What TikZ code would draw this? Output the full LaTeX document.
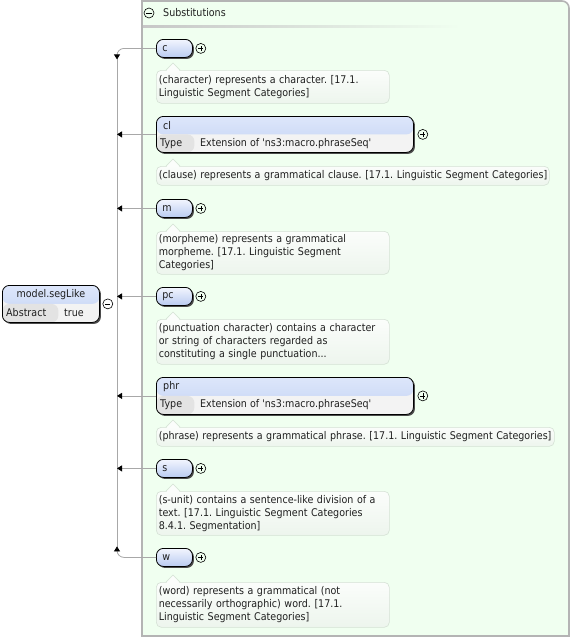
\documentclass[tikz,border=0pt]{standalone}
\usepackage{fontspec}
\setmainfont{DejaVu Sans}[FakeStretch=0.9, Ligatures=TeXOff]
\usetikzlibrary{arrows.meta,shadows}
\definecolor{panelfill}{HTML}{F0FFF0}
\definecolor{panelline}{HTML}{B4B4B4}
\definecolor{elemtop}{HTML}{F2F5FE}
\definecolor{elembottom}{HTML}{BACBF1}
\definecolor{headtop}{HTML}{DDE6FB}
\definecolor{headbottom}{HTML}{C3D3F3}
\definecolor{keycell}{HTML}{E3E3E3}
\definecolor{valcell}{HTML}{F3F3F3}
\definecolor{desctop}{HTML}{FBFDFB}
\definecolor{descbottom}{HTML}{EDF5ED}
\definecolor{descline}{HTML}{D5E1D5}
\definecolor{linkgray}{HTML}{A8A8A8}
\newcommand{\schemafont}{\fontsize{10.6}{13}\selectfont\frenchspacing}
% open callout on the top edge of a documentation box
\newcommand{\docnotch}[1]{%
  \fill[desctop] ([xshift=10.6pt,yshift=-0.8pt]#1.north west) -- ++(6.4,7.6) -- ++(6.4,-7.6) -- cycle;
  \draw[descline, line width=0.6pt] ([xshift=10pt]#1.north west) -- ++(7,7) -- ++(7,-7);}

\begin{document}
\begin{tikzpicture}[
  x=1pt,
  y=1pt,
  every node/.style={font=\schemafont, text=black!88},
  elem/.style={draw=black, line width=0.8pt, rounded corners=7pt,
               top color=elemtop, bottom color=elembottom,
               minimum height=18pt, text width=24pt, align=left,
               inner xsep=6pt, inner ysep=0pt, anchor=north west,
               drop shadow={shadow xshift=1.5pt, shadow yshift=-1.5pt,
                            fill=black!70, opacity=1}},
  typebox/.style={draw=black, line width=0.8pt, rounded corners=7pt,
                  fill=valcell, inner sep=0pt, anchor=north west,
                  drop shadow={shadow xshift=1.5pt, shadow yshift=-1.5pt,
                               fill=black!70, opacity=1},
                  path picture={
                    \fill[top color=headtop, bottom color=headbottom]
                      (path picture bounding box.north west)
                      rectangle (path picture bounding box.east);
                    \fill[keycell] (path picture bounding box.south west)
                      rectangle ([xshift=#1]path picture bounding box.west);}},
  desc/.style={draw=descline, line width=0.6pt, rounded corners=5pt,
               top color=desctop, bottom color=descbottom,
               inner xsep=2.5pt, inner ysep=0pt, align=left, anchor=north west},
  cell/.style={anchor=west, inner sep=0pt},
  expander/.style={circle, draw=black, line width=0.6pt, minimum size=10pt, inner sep=0pt},
  plus/.style={expander, path picture={
                 \draw[line width=0.6pt]
                   ([xshift=-2.6pt]path picture bounding box.center) -- ([xshift=2.6pt]path picture bounding box.center)
                   ([yshift=-2.6pt]path picture bounding box.center) -- ([yshift=2.6pt]path picture bounding box.center);}},
  minus/.style={expander, path picture={
                 \draw[line width=0.6pt]
                   ([xshift=-2.6pt]path picture bounding box.center) -- ([xshift=2.6pt]path picture bounding box.center);}},
  link/.style={linkgray, line width=0.8pt, -{Triangle[length=5pt, width=6pt, color=black]}},
  trunkline/.style={linkgray, line width=0.8pt}
]
  % ---- page frame ----
  \path[use as bounding box] (0,0) rectangle (571,-638);

  % ---- substitutions panel ----
  \filldraw[fill=panelfill, draw=panelline, line width=1.6pt]
    (142,-636) -- (142,-1) -- (562,-1) arc[start angle=90, end angle=0, radius=7] -- (569,-636) -- cycle;
  \node[minus] (substminus) at (149,-13) {};
  \node[cell] (substtitle) at (163,-13) {Substitutions};
  \shade[left color=black!22, right color=panelfill] (143,-25) rectangle (460,-27);

  % ---- the abstract group ----
  \node[typebox=56pt, minimum width=97pt, minimum height=37pt] (seglike) at (2,-285) {};
  \node[inner sep=0pt] (seglikename) at ([yshift=9pt]seglike.center) {model.segLike};
  \node[cell] (seglikekey) at ([xshift=4pt,yshift=-9pt]seglike.west) {Abstract};
  \node[cell] (seglikeval) at ([xshift=62pt,yshift=-9pt]seglike.west) {true};
  \node[minus] (seglikeminus) at ([xshift=8pt]seglike.east) {};

  % ---- c ----
  \node[elem] (c) at (156,-39) {c};
  \node[plus] (cplus) at ([xshift=8pt]c.east) {};
  \node[desc, text width=228pt, minimum height=33pt] (cdoc) at (156,-70)
    {(character) represents a character. [17.1.\\Linguistic Segment Categories]};
  \docnotch{cdoc}

  % ---- cl ----
  \node[typebox=38pt, minimum width=257pt, minimum height=36pt] (cl) at (156,-116) {};
  \node[cell] (clname) at ([xshift=7pt,yshift=9pt]cl.west) {cl};
  \node[cell] (clkey) at ([xshift=4pt,yshift=-9pt]cl.west) {Type};
  \node[cell] (clval) at ([xshift=44pt,yshift=-9pt]cl.west) {Extension of 'ns3:macro.phraseSeq'};
  \node[plus] (clplus) at ([xshift=9pt]cl.east) {};
  \node[desc, text width=388pt, minimum height=19pt] (cldoc) at (156,-166)
    {\mbox{(clause) represents a grammatical clause. [17.1. Linguistic Segment Categories]}};
  \docnotch{cldoc}

  % ---- m ----
  \node[elem] (m) at (156,-199) {m};
  \node[plus] (mplus) at ([xshift=8pt]m.east) {};
  \node[desc, text width=228pt, minimum height=43pt] (mdoc) at (156,-231)
    {(morpheme) represents a grammatical\\morpheme. [17.1. Linguistic Segment\\Categories]};
  \docnotch{mdoc}

  % ---- pc ----
  \node[elem] (pc) at (156,-287) {pc};
  \node[plus] (pcplus) at ([xshift=8pt]pc.east) {};
  \node[desc, text width=228pt, minimum height=45pt] (pcdoc) at (156,-319)
    {(punctuation character) contains a character\\or string of characters regarded as\\constituting a single punctuation...};
  \docnotch{pcdoc}

  % ---- phr ----
  \node[typebox=38pt, minimum width=257pt, minimum height=37pt] (phr) at (156,-377) {};
  \node[cell] (phrname) at ([xshift=7pt,yshift=9pt]phr.west) {phr};
  \node[cell] (phrkey) at ([xshift=4pt,yshift=-9pt]phr.west) {Type};
  \node[cell] (phrval) at ([xshift=44pt,yshift=-9pt]phr.west) {Extension of 'ns3:macro.phraseSeq'};
  \node[plus] (phrplus) at ([xshift=9pt]phr.east) {};
  \node[desc, text width=393pt, minimum height=19pt] (phrdoc) at (156,-427)
    {\mbox{(phrase) represents a grammatical phrase. [17.1. Linguistic Segment Categories]}};
  \docnotch{phrdoc}

  % ---- s ----
  \node[elem] (s) at (156,-459) {s};
  \node[plus] (splus) at ([xshift=8pt]s.east) {};
  \node[desc, text width=228pt, minimum height=44pt] (sdoc) at (156,-491)
    {(s-unit) contains a sentence-like division of a\\text. [17.1. Linguistic Segment Categories\\8.4.1. Segmentation]};
  \docnotch{sdoc}

  % ---- w ----
  \node[elem] (w) at (156,-548) {w};
  \node[plus] (wplus) at ([xshift=8pt]w.east) {};
  \node[desc, text width=228pt, minimum height=45pt] (wdoc) at (156,-582)
    {(word) represents a grammatical (not\\necessarily orthographic) word. [17.1.\\Linguistic Segment Categories]};
  \docnotch{wdoc}

  % ---- connectors into the trunk ----
  \coordinate (trunk) at (117,0);
  \draw[trunkline] ([yshift=-10pt]c.west -| trunk) -- ([yshift=10pt]w.west -| trunk);
  \draw[link, rounded corners=7pt] (c.west) -- (c.west -| trunk) -- ([yshift=-11pt]c.west -| trunk);
  \draw[link, rounded corners=7pt] (w.west) -- (w.west -| trunk) -- ([yshift=11pt]w.west -| trunk);
  \draw[link] (cl.west) -- (cl.west -| trunk);
  \draw[link] (m.west) -- (m.west -| trunk);
  \draw[link] (pc.west) -- (pc.west -| trunk);
  \draw[link] (phr.west) -- (phr.west -| trunk);
  \draw[link] (s.west) -- (s.west -| trunk);
\end{tikzpicture}
\end{document}
